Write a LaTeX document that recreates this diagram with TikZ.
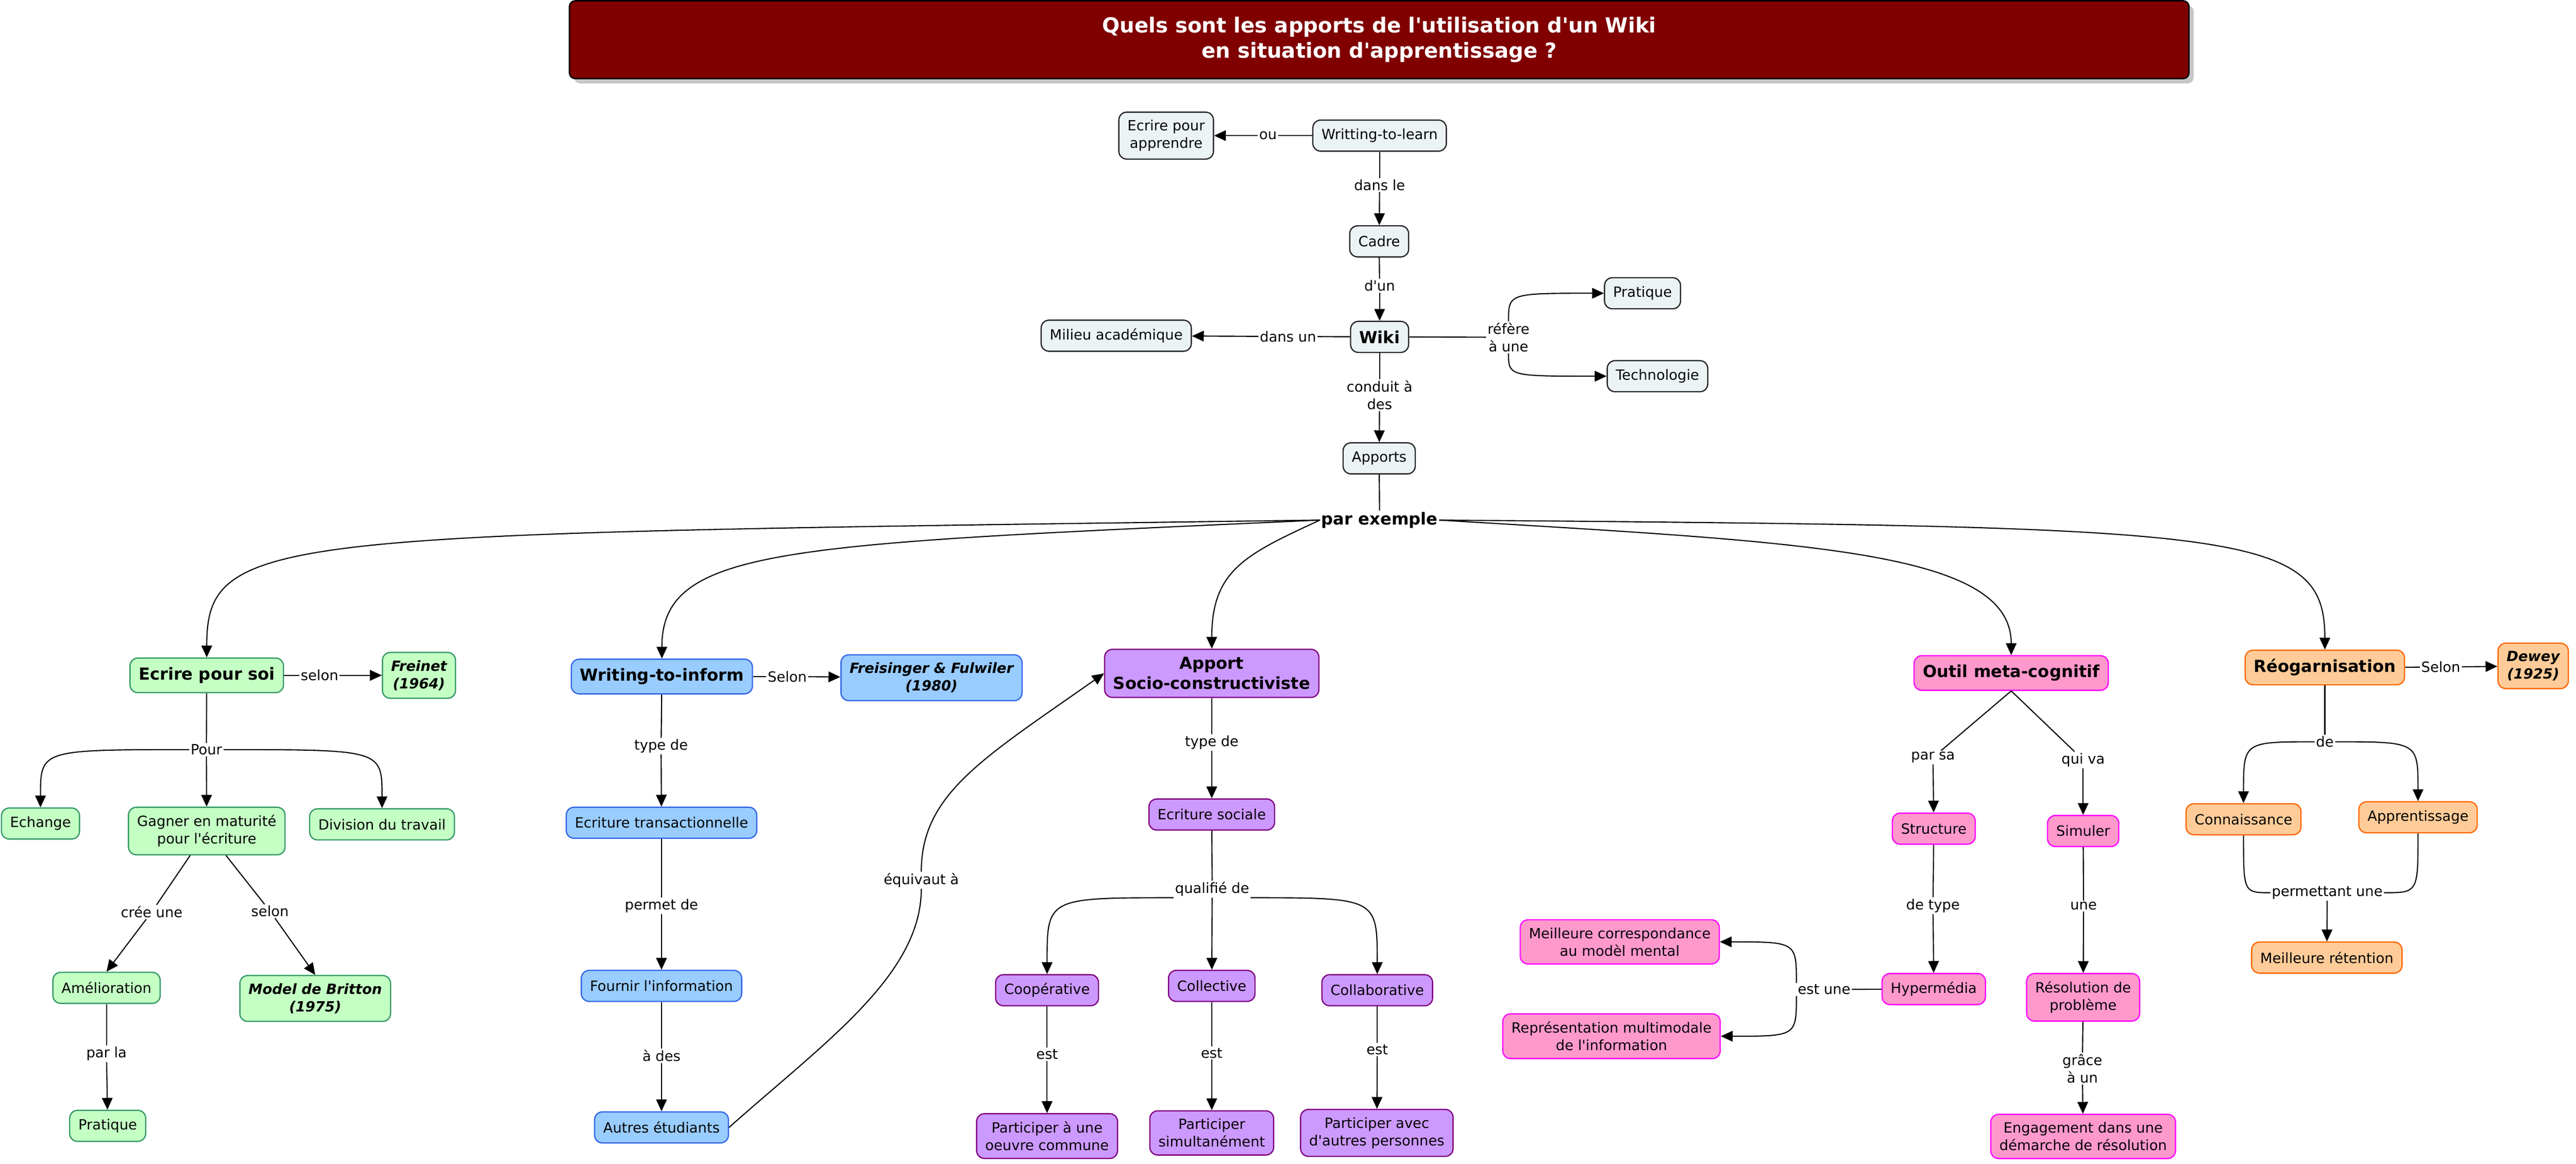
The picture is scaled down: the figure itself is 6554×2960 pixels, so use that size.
\documentclass[tikz,border=0pt]{standalone}
\usepackage{fontspec}
\setmainfont{DejaVu Sans}[Ligatures=TeXOff]
\usetikzlibrary{arrows.meta,shadows}

\definecolor{titlered}{RGB}{128,0,0}
\definecolor{cmgray}{RGB}{236,243,245}
\definecolor{cmgreen}{RGB}{196,255,196}
\definecolor{cmgreenline}{RGB}{51,153,102}
\definecolor{cmblue}{RGB}{153,204,255}
\definecolor{cmblueline}{RGB}{51,102,230}
\definecolor{cmpurple}{RGB}{204,153,255}
\definecolor{cmpurpleline}{RGB}{128,0,128}
\definecolor{cmpink}{RGB}{255,153,204}
\definecolor{cmpinkline}{RGB}{255,0,255}
\definecolor{cmorange}{RGB}{255,204,153}
\definecolor{cmorangeline}{RGB}{255,102,0}

\newcommand{\cmtxt}{\fontsize{10.2}{12.7}\selectfont}
\newcommand{\cmbig}{\fontsize{12}{14.5}\selectfont\bfseries}

\tikzset{
  cmbox/.style={draw, rounded corners=0.2cm, line width=0.9pt, inner xsep=0.22cm,
    inner ysep=0.2cm, minimum height=0.79cm, align=center, font=\cmtxt},
  grayc/.style={cmbox, fill=cmgray, draw=black!85},
  greenc/.style={cmbox, fill=cmgreen, draw=cmgreenline},
  bluec/.style={cmbox, fill=cmblue, draw=cmblueline},
  purplec/.style={cmbox, fill=cmpurple, draw=cmpurpleline},
  pinkc/.style={cmbox, fill=cmpink, draw=cmpinkline},
  orangec/.style={cmbox, fill=cmorange, draw=cmorangeline},
  mainbox/.style={font=\cmbig, minimum height=0.88cm},
  citebox/.style={font=\cmtxt\bfseries\itshape},
  link/.style={fill=white, inner sep=0.03cm, align=center, font=\cmtxt},
  conn/.style={line width=0.8pt},
  arr/.style={conn, -{Triangle[length=0.3cm, width=0.27cm]}},
  titlebox/.style={draw=black, line width=1pt, fill=titlered, rounded corners=0.15cm,
    text=white, align=center, font=\fontsize{15}{18.5}\selectfont\bfseries,
    minimum width=41.18cm, minimum height=1.98cm,
    drop shadow={shadow xshift=0.12cm, shadow yshift=-0.12cm, fill=black!22, opacity=1}}
}

\begin{document}
\begin{tikzpicture}[x=0.01cm, y=-0.01cm]
\useasboundingbox (0,0) rectangle (6554,2960);

\node[titlebox] (title) at (3509,101) {Quels sont les apports de l'utilisation d'un Wiki\\en situation d'apprentissage ?};

% haut de la carte
\node[grayc] (wtl) at (3510,345) {Writting-to-learn};
\node[grayc] (ecrapp) at (2967,345) {Ecrire pour\\apprendre};
\node[grayc] (cadre) at (3509,614) {Cadre};
\node[grayc, font=\cmbig] (wiki) at (3510,857) {Wiki};
\node[grayc] (milieu) at (2840,854) {Milieu académique};
\node[grayc] (pratique) at (4179,746) {Pratique};
\node[grayc] (techno) at (4217,957) {Technologie};
\node[grayc] (apports) at (3509,1166) {Apports};

\node[link] (lou) at (3226,345) {ou};
\node[link] (ldansle) at (3510,471) {dans le};
\node[link] (ldun) at (3510,727) {d'un};
\node[link] (ldansun) at (3277,856) {dans un};
\node[link] (lrefere) at (3838,858) {réfère\\à une};
\node[link] (lconduit) at (3510,1005) {conduit à\\des};
\node[link, font=\cmbig] (lparex) at (3510,1323) {par exemple};

\draw[conn] (wtl) -- (lou);
\draw[arr] (lou) -- (ecrapp);
\draw[conn] (wtl) -- (ldansle);
\draw[arr] (ldansle) -- (cadre);
\draw[conn] (cadre) -- (ldun);
\draw[arr] (ldun) -- (wiki);
\draw[conn] (wiki) -- (ldansun);
\draw[arr] (ldansun) -- (milieu);
\draw[conn] (wiki) -- (lrefere);
\draw[arr] (lrefere.north) .. controls (lrefere.north |- pratique.west) and (lrefere.north |- pratique.west) .. (pratique.west);
\draw[arr] (lrefere.south) .. controls (lrefere.south |- techno.west) and (lrefere.south |- techno.west) .. (techno.west);
\draw[conn] (wiki) -- (lconduit);
\draw[arr] (lconduit) -- (apports);
\draw[conn] (apports) -- (lparex);

% ecrire pour soi
\node[greenc, mainbox] (ecrsoi) at (526,1718) {Ecrire pour soi};
\node[greenc, citebox] (freinet) at (1066,1718) {Freinet\\(1964)};
\node[greenc] (echange) at (103,2095) {Echange};
\node[greenc] (gagner) at (526,2114) {Gagner en maturité\\pour l'écriture};
\node[greenc] (division) at (972,2097) {Division du travail};
\node[greenc] (amelio) at (271,2513) {Amélioration};
\node[greenc, citebox] (britton) at (802,2540) {Model de Britton\\(1975)};
\node[greenc] (pratique2) at (274,2864) {Pratique};

\node[link] (lselon1) at (813,1718) {selon};
\node[link] (lpour) at (525,1907) {Pour};
\node[link] (lcree) at (386,2320) {crée une};
\node[link] (lselon2) at (687,2318) {selon};
\node[link] (lparla) at (271,2681) {par la};

\draw[conn] (ecrsoi) -- (lselon1);
\draw[arr] (lselon1) -- (freinet);
\draw[conn] (ecrsoi) -- (lpour);
\draw[arr] (lpour) -- (gagner);
\draw[arr] (lpour.west) .. controls (echange.north |- lpour.west) and (echange.north |- lpour.west) .. (echange.north);
\draw[arr] (lpour.east) .. controls (division.north |- lpour.east) and (division.north |- lpour.east) .. (division.north);
\draw[conn] (gagner) -- (lcree);
\draw[arr] (lcree) -- (amelio.north);
\draw[conn] (gagner) -- (lselon2);
\draw[arr] (lselon2) -- (britton.north);
\draw[conn] (amelio) -- (lparla);
\draw[arr] (lparla) -- (pratique2);

% writing-to-inform
\node[bluec, mainbox] (wti) at (1684,1721) {Writing-to-inform};
\node[bluec, citebox] (freis) at (2370,1724) {Freisinger \& Fulwiler\\(1980)};
\node[bluec] (ectrans) at (1683,2093) {Ecriture transactionnelle};
\node[bluec] (fournir) at (1683,2508) {Fournir l'information};
\node[bluec] (autres) at (1683,2868) {Autres étudiants};

\node[link] (lselon3) at (2003,1721) {Selon};
\node[link] (ltype1) at (1682,1898) {type de};
\node[link] (lpermet) at (1683,2304) {permet de};
\node[link] (lades) at (1683,2686) {à des};
\node[link] (lequiv) at (2344,2239) {équivaut à};

\draw[conn] (wti) -- (lselon3);
\draw[arr] (lselon3) -- (freis);
\draw[conn] (wti) -- (ltype1);
\draw[arr] (ltype1) -- (ectrans);
\draw[conn] (ectrans) -- (lpermet);
\draw[arr] (lpermet) -- (fournir);
\draw[conn] (fournir) -- (lades);
\draw[arr] (lades) -- (autres);

% socio-constructiviste
\node[purplec, mainbox] (apport) at (3083,1713) {Apport\\Socio-constructiviste};
\node[purplec] (ecsoc) at (3083,2072) {Ecriture sociale};
\node[purplec] (coop) at (2664,2519) {Coopérative};
\node[purplec] (collec) at (3083,2508) {Collective};
\node[purplec] (collab) at (3504,2519) {Collaborative};
\node[purplec] (part1) at (2664,2890) {Participer à une\\oeuvre commune};
\node[purplec] (part2) at (3083,2882) {Participer\\simultanément};
\node[purplec] (part3) at (3503,2882) {Participer avec\\d'autres personnes};

\node[link] (ltype2) at (3083,1889) {type de};
\node[link] (lqual) at (3084,2262) {qualifié de};
\node[link] (lest1) at (2664,2682) {est};
\node[link] (lest2) at (3083,2679) {est};
\node[link] (lest3) at (3504,2670) {est};

\draw[conn] (autres.east) .. controls (2100,2650) and (2344,2480) .. (lequiv.south);
\draw[arr] (lequiv.north) .. controls (2344,2020) and (2500,1930) .. (apport.west);
\draw[conn] (apport) -- (ltype2);
\draw[arr] (ltype2) -- (ecsoc);
\draw[conn] (ecsoc) -- (lqual);
\draw[arr] (lqual) -- (collec);
\draw[arr] (lqual.south west) .. controls (coop.north |- lqual.south west) and (coop.north |- lqual.south west) .. (coop.north);
\draw[arr] (lqual.south east) .. controls (collab.north |- lqual.south east) and (collab.north |- lqual.south east) .. (collab.north);
\draw[conn] (coop) -- (lest1);
\draw[arr] (lest1) -- (part1);
\draw[conn] (collec) -- (lest2);
\draw[arr] (lest2) -- (part2);
\draw[conn] (collab) -- (lest3);
\draw[arr] (lest3) -- (part3);

% outil meta-cognitif
\node[pinkc, mainbox] (outil) at (5117,1712) {Outil meta-cognitif};
\node[pinkc] (structure) at (4920,2108) {Structure};
\node[pinkc] (simuler) at (5300,2114) {Simuler};
\node[pinkc] (hyper) at (4920,2516) {Hypermédia};
\node[pinkc] (resol) at (5300,2537) {Résolution de\\problème};
\node[pinkc] (meilleure) at (4121,2396) {Meilleure correspondance\\au modèl mental};
\node[pinkc] (repres) at (4100,2636) {Représentation multimodale\\de l'information};
\node[pinkc] (engage) at (5300,2891) {Engagement dans une\\démarche de résolution};

\node[link] (lparsa) at (4918,1927) {par sa};
\node[link] (lquiva) at (5300,1933) {qui va};
\node[link] (ldetype) at (4918,2304) {de type};
\node[link] (lune) at (5301,2305) {une};
\node[link] (lestune) at (4641,2517) {est une};
\node[link] (lgrace) at (5298,2718) {grâce\\à un};

\draw[conn] (outil.south) -- (lparsa);
\draw[arr] (lparsa) -- (structure);
\draw[conn] (outil.south) -- (lquiva);
\draw[arr] (lquiva) -- (simuler);
\draw[conn] (structure) -- (ldetype);
\draw[arr] (ldetype) -- (hyper);
\draw[conn] (simuler) -- (lune);
\draw[arr] (lune) -- (resol);
\draw[conn] (resol) -- (lgrace);
\draw[arr] (lgrace) -- (engage);
\draw[conn] (hyper) -- (lestune);
\draw[arr] (lestune.north west) .. controls (lestune.north west |- meilleure.east) and (lestune.north west |- meilleure.east) .. (meilleure.east);
\draw[arr] (lestune.south west) .. controls (lestune.south west |- repres.east) and (lestune.south west |- repres.east) .. (repres.east);

% reogarnisation
\node[orangec, mainbox] (reo) at (5915,1698) {Réogarnisation};
\node[orangec, citebox] (dewey) at (6445,1694) {Dewey\\(1925)};
\node[orangec] (connais) at (5708,2084) {Connaissance};
\node[orangec] (apprent) at (6152,2079) {Apprentissage};
\node[orangec] (meilret) at (5920,2436) {Meilleure rétention};

\node[link] (lselon4) at (6210,1697) {Selon};
\node[link] (lde) at (5915,1887) {de};
\node[link] (lpermet2) at (5921,2271) {permettant une};

\draw[conn] (reo) -- (lselon4);
\draw[arr] (lselon4) -- (dewey);
\draw[conn] (reo) -- (lde);
\draw[arr] (lde.west) .. controls (connais.north |- lde.west) and (connais.north |- lde.west) .. (connais.north);
\draw[arr] (lde.east) .. controls (apprent.north |- lde.east) and (apprent.north |- lde.east) .. (apprent.north);
\draw[conn] (connais.south) .. controls (connais.south |- lpermet2.west) and (connais.south |- lpermet2.west) .. (lpermet2.west);
\draw[conn] (apprent.south) .. controls (apprent.south |- lpermet2.east) and (apprent.south |- lpermet2.east) .. (lpermet2.east);
\draw[arr] (lpermet2) -- (meilret);

% par exemple
\draw[arr] (lparex.west) .. controls (700,1360) and (526,1350) .. (ecrsoi.north);
\draw[arr] (lparex.west) .. controls (2000,1385) and (1684,1390) .. (wti.north);
\draw[arr] (lparex.west) .. controls (3170,1410) and (3083,1450) .. (apport.north);
\draw[arr] (lparex.east) .. controls (4600,1380) and (5117,1400) .. (outil.north);
\draw[arr] (lparex.east) .. controls (5700,1340) and (5915,1345) .. (reo.north);
\end{tikzpicture}
\end{document}
